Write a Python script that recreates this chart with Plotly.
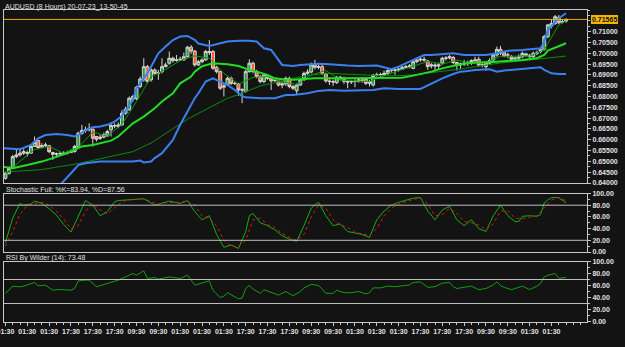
import plotly.graph_objects as go

W, H = 625, 347

# ---------------- data ----------------
opens = [0.6422,0.6445,0.6468,0.6522,0.6530,0.6538,0.6541,0.6538,0.6569,0.6596,
 0.6566,0.6573,0.6572,0.6541,0.6533,0.6535,0.6536,0.6538,0.6541,0.6545,
 0.6569,0.6630,0.6643,0.6646,0.6649,0.6615,0.6606,0.6612,0.6618,0.6646,
 0.6664,0.6661,0.6669,0.6723,0.6738,0.6800,0.6790,0.6846,0.6877,0.6938,
 0.6877,0.6923,0.6907,0.6915,0.6938,0.6954,0.6977,0.6967,0.6969,0.6969,
 0.6984,0.7028,0.7010,0.6946,0.6961,0.6969,0.7008,0.7008,0.6935,0.6915,
 0.6843,0.6853,0.6884,0.6861,0.6858,0.6830,0.6823,0.6915,0.6954,0.6915,
 0.6892,0.6869,0.6897,0.6884,0.6874,0.6872,0.6853,0.6858,0.6884,0.6846,
 0.6827,0.6853,0.6877,0.6907,0.6913,0.6946,0.6935,0.6938,0.6904,0.6872,
 0.6869,0.6864,0.6889,0.6884,0.6870,0.6867,0.6869,0.6870,0.6877,0.6880,
 0.6861,0.6853,0.6898,0.6900,0.6900,0.6907,0.6920,0.6923,0.6922,0.6926,
 0.6935,0.6938,0.6930,0.6961,0.6969,0.6972,0.6964,0.6941,0.6946,0.6941,
 0.6954,0.6977,0.6978,0.6981,0.6957,0.6946,0.6950,0.6954,0.6955,0.6966,
 0.6972,0.6946,0.6938,0.6954,0.6969,0.6992,0.7018,0.7003,0.6991,0.6984,
 0.6974,0.6977,0.6984,0.6997,0.6991,0.6984,0.7000,0.7008,0.7018,0.7077,
 0.7126,0.7138,0.7166,0.7145,0.7149]
closes = [0.6445,0.6468,0.6522,0.6530,0.6538,0.6545,0.6538,0.6569,0.6587,0.6564,
 0.6573,0.6576,0.6545,0.6533,0.6535,0.6536,0.6538,0.6541,0.6547,0.6569,
 0.6630,0.6643,0.6646,0.6653,0.6607,0.6602,0.6612,0.6623,0.6638,0.6666,
 0.6665,0.6669,0.6723,0.6741,0.6792,0.6787,0.6843,0.6881,0.6938,0.6869,
 0.6923,0.6907,0.6910,0.6938,0.6946,0.6977,0.6966,0.6969,0.6972,0.6984,
 0.7028,0.7010,0.6946,0.6961,0.6969,0.7008,0.7003,0.6931,0.6915,0.6838,
 0.6849,0.6884,0.6861,0.6860,0.6830,0.6831,0.6915,0.6954,0.6915,0.6892,
 0.6869,0.6900,0.6884,0.6872,0.6875,0.6853,0.6858,0.6884,0.6846,0.6838,
 0.6853,0.6877,0.6907,0.6913,0.6946,0.6935,0.6938,0.6907,0.6872,0.6869,
 0.6867,0.6889,0.6884,0.6870,0.6867,0.6869,0.6870,0.6877,0.6874,0.6861,
 0.6867,0.6898,0.6900,0.6901,0.6907,0.6920,0.6923,0.6922,0.6926,0.6935,
 0.6938,0.6941,0.6961,0.6969,0.6972,0.6969,0.6938,0.6946,0.6941,0.6946,
 0.6977,0.6978,0.6984,0.6957,0.6946,0.6950,0.6954,0.6955,0.6966,0.6969,
 0.6946,0.6945,0.6954,0.6966,0.6992,0.7018,0.7000,0.6987,0.6992,0.6972,
 0.6977,0.6984,0.7000,0.6992,0.6984,0.7000,0.7001,0.7018,0.7077,0.7131,
 0.7138,0.7169,0.7141,0.7146,0.71565]
highs = [0.6453,0.6476,0.6530,0.6553,0.6561,0.6556,0.6550,0.6576,0.6615,0.6599,
 0.6584,0.6587,0.6576,0.6545,0.6541,0.6544,0.6547,0.6550,0.6556,0.6576,
 0.6638,0.6669,0.6661,0.6676,0.6653,0.6618,0.6623,0.6633,0.6646,0.6676,
 0.6676,0.6680,0.6738,0.6753,0.6800,0.6807,0.6849,0.6892,0.6977,0.6946,
 0.6930,0.6930,0.6923,0.6977,0.6957,0.7008,0.6984,0.6992,0.6984,0.7003,
 0.7034,0.7038,0.7015,0.6969,0.6977,0.7015,0.7061,0.7015,0.6941,0.6920,
 0.6861,0.6892,0.6892,0.6869,0.6864,0.6838,0.6923,0.6972,0.6961,0.6923,
 0.6900,0.6907,0.6904,0.6892,0.6884,0.6877,0.6869,0.6892,0.6892,0.6853,
 0.6861,0.6884,0.6915,0.6926,0.6957,0.6969,0.6954,0.6946,0.6910,0.6880,
 0.6877,0.6895,0.6895,0.6892,0.6877,0.6877,0.6880,0.6884,0.6883,0.6884,
 0.6877,0.6904,0.6910,0.6910,0.6920,0.6926,0.6930,0.6930,0.6935,0.6941,
 0.6946,0.6950,0.6969,0.6977,0.6981,0.6984,0.6969,0.6954,0.6954,0.6957,
 0.6984,0.6987,0.6992,0.6987,0.6961,0.6957,0.6969,0.6966,0.6972,0.6984,
 0.6984,0.6957,0.6961,0.6977,0.7000,0.7031,0.7034,0.7008,0.7003,0.6992,
 0.6984,0.6995,0.7008,0.7003,0.6997,0.7008,0.7012,0.7028,0.7085,0.7135,
 0.7154,0.7177,0.7177,0.7157,0.7162]
lows = [0.6415,0.6438,0.6464,0.6515,0.6522,0.6530,0.6522,0.6535,0.6566,0.6556,
 0.6561,0.6566,0.6538,0.6507,0.6522,0.6525,0.6529,0.6532,0.6538,0.6541,
 0.6566,0.6623,0.6633,0.6638,0.6569,0.6592,0.6599,0.6607,0.6612,0.6615,
 0.6653,0.6653,0.6664,0.6715,0.6735,0.6777,0.6784,0.6838,0.6869,0.6861,
 0.6869,0.6900,0.6877,0.6907,0.6935,0.6946,0.6957,0.6961,0.6964,0.6966,
 0.6980,0.6997,0.6938,0.6941,0.6954,0.6966,0.6992,0.6923,0.6907,0.6830,
 0.6800,0.6849,0.6853,0.6853,0.6803,0.6769,0.6818,0.6910,0.6907,0.6884,
 0.6861,0.6861,0.6877,0.6830,0.6864,0.6846,0.6838,0.6849,0.6838,0.6830,
 0.6807,0.6849,0.6872,0.6900,0.6907,0.6926,0.6926,0.6900,0.6864,0.6853,
 0.6849,0.6858,0.6874,0.6858,0.6838,0.6858,0.6843,0.6864,0.6864,0.6853,
 0.6846,0.6846,0.6892,0.6889,0.6895,0.6900,0.6910,0.6900,0.6915,0.6923,
 0.6929,0.6930,0.6926,0.6954,0.6961,0.6961,0.6923,0.6930,0.6915,0.6926,
 0.6946,0.6966,0.6972,0.6950,0.6920,0.6926,0.6941,0.6941,0.6946,0.6957,
 0.6938,0.6935,0.6920,0.6946,0.6961,0.6984,0.6992,0.6981,0.6977,0.6966,
 0.6966,0.6969,0.6977,0.6984,0.6977,0.6977,0.6991,0.7000,0.7012,0.7069,
 0.7115,0.7131,0.7135,0.7138,0.7141]

# Bollinger upper / lower / middle and moving averages (bar index, value)
bb_up_i = [-1,4,7,9,11,14,17,19,20,22,24,26,28,30,32,35,36,39,41,42,44,46,48,50,52,53,56,59,61,64,67,69,71,73,74,76,79,81,84,86,89,91,94,97,100,102,104,106,108,111,113,115,117,120,123,126,128,132,135,137,138,142,145,147,148,149,152,154]
bb_up_v = [0.6561,0.6556,0.6576,0.6607,0.6622,0.6627,0.6622,0.6615,0.6622,0.6645,0.6658,0.6661,0.6669,0.6684,0.6710,0.6784,0.6838,0.6907,0.6969,0.7000,0.7031,0.7061,0.7077,0.7080,0.7062,0.7045,0.7034,0.7046,0.7054,0.7058,0.7058,0.7054,0.7023,0.7015,0.6992,0.6946,0.6941,0.6946,0.6949,0.6951,0.6949,0.6946,0.6943,0.6941,0.6941,0.6943,0.6935,0.6926,0.6938,0.6961,0.6977,0.6992,0.6992,0.6997,0.7000,0.6992,0.6992,0.6992,0.7000,0.7008,0.7012,0.7015,0.7018,0.7023,0.7054,0.7108,0.7162,0.7185]
bb_lo_i = [-1,5,10,13,15,18,20,22,26,30,35,37,38,40,41,43,46,48,50,52,53,55,57,58,61,63,65,66,70,74,76,77,79,83,86,89,93,98,101,104,108,114,115,117,120,123,125,127,129,133,135,137,142,147,148,150,152,154]
bb_lo_v = [0.6350,0.6355,0.6365,0.6380,0.6391,0.6445,0.6483,0.6491,0.6499,0.6499,0.6499,0.6504,0.6495,0.6499,0.6515,0.6538,0.6599,0.6669,0.6730,0.6792,0.6815,0.6869,0.6884,0.6877,0.6853,0.6830,0.6802,0.6796,0.6792,0.6792,0.6802,0.6807,0.6807,0.6815,0.6826,0.6830,0.6827,0.6827,0.6830,0.6838,0.6835,0.6835,0.6843,0.6858,0.6884,0.6904,0.6915,0.6918,0.6923,0.6926,0.6915,0.6920,0.6926,0.6935,0.6923,0.6907,0.6904,0.6904]
bb_mid_i = [-1,2,6,10,13,17,20,21,24,26,29,31,33,35,38,41,43,46,48,51,52,54,57,61,64,67,69,72,74,77,79,82,85,93,102,106,109,113,117,120,124,127,130,133,136,138,142,146,148,149,152,154]
bb_mid_v = [0.6476,0.6468,0.6483,0.6499,0.6515,0.6538,0.6561,0.6569,0.6576,0.6584,0.6596,0.6615,0.6646,0.6676,0.6707,0.6746,0.6777,0.6815,0.6861,0.6892,0.6915,0.6940,0.6954,0.6949,0.6941,0.6923,0.6915,0.6900,0.6884,0.6877,0.6877,0.6880,0.6884,0.6884,0.6884,0.6884,0.6887,0.6900,0.6915,0.6930,0.6946,0.6954,0.6958,0.6958,0.6961,0.6964,0.6969,0.6977,0.6992,0.7012,0.7031,0.7046]
ma_slow_i = [-1,10,20,30,35,40,45,50,53,58,61,65,70,75,79,84,89,98,107,112,118,124,130,136,142,148,154]
ma_slow_v = [0.6450,0.6462,0.6490,0.6525,0.6545,0.6585,0.6640,0.6695,0.6722,0.6765,0.6792,0.6815,0.6849,0.6868,0.6884,0.6900,0.6907,0.6900,0.6895,0.6900,0.6912,0.6925,0.6940,0.6955,0.6965,0.6975,0.6987]
ma_fast_i = [0,2,4,8,12,16,20,24,28,32,36,40,44,48,52,56,60,64,68,72,76,80,84,88,92,96,100,104,108,112,116,120,124,128,132,136,140,144,148,150,152,154]
ma_fast_v = [0.6440,0.6470,0.6501,0.6555,0.6569,0.6537,0.6565,0.6636,0.6616,0.6672,0.6777,0.6891,0.6925,0.6966,0.6988,0.6977,0.6907,0.6857,0.6889,0.6892,0.6868,0.6856,0.6899,0.6920,0.6876,0.6872,0.6870,0.6895,0.6920,0.6940,0.6962,0.6950,0.6968,0.6954,0.6956,0.6986,0.6986,0.6987,0.7016,0.7073,0.7131,0.7150]

# Stochastic full %K / %D
stk_i = [0,2,4,5,7,8,10,12,14,16,18,20,22,24,26,28,30,31,33,35,37,38,41,43,45,48,50,52,54,56,58,60,62,64,66,67,68,70,72,74,76,78,80,82,84,86,88,90,92,94,96,98,100,102,104,106,108,110,112,114,116,118,120,122,124,126,128,130,132,134,136,138,140,141,142,144,146,147,148,149,150,152,154]
stk_v = [16,58,83,80,82,87,83,74,63,47,34,61,88,80,62,69,86,88,89,90,91,91,80,83,87,83,88,69,55,62,30,8,12,6,35,62,66,50,45,38,28,22,18,45,75,85,62,45,48,35,32,30,25,55,70,80,85,88,92,93,70,55,72,78,55,45,55,40,35,62,80,62,52,52,61,62,61,64,84,89,93,93,83.94]
std_i = [0,2,4,6,8,10,12,14,16,18,20,22,24,26,28,30,32,34,36,38,40,42,44,46,48,50,52,54,56,58,60,62,64,66,68,70,72,74,76,78,80,82,84,86,88,90,92,94,96,98,100,102,104,106,108,110,112,114,116,118,120,122,124,126,128,130,132,134,136,138,140,142,144,146,148,150,152,154]
std_v = [10,35,65,80,83,85,80,70,56,40,45,70,82,72,65,76,86,89,90,91,86,82,84,85,85,86,80,62,58,45,20,10,9,20,55,58,47,42,32,25,20,30,60,80,75,55,46,42,34,31,28,40,62,75,82,86,90,92,82,62,64,74,66,52,50,46,38,48,70,70,58,57,60,62,75,89,93,87.56]

# RSI by Wilder (14)
rsi_i = [0,2,4,5,8,9,11,13,15,18,19,20,22,23,25,28,30,31,34,35,36,38,39,41,42,45,48,50,52,54,56,57,59,60,61,64,65,66,67,68,70,71,73,75,77,79,81,82,84,86,87,88,90,91,93,95,97,99,100,101,103,105,107,109,111,112,114,116,118,120,122,123,124,126,128,130,132,134,135,136,137,139,141,142,144,146,147,148,149,150,151,152,154]
rsi_v = [46.7,58.9,57.8,58.9,65,59.4,60.6,52.2,53.3,52.2,55,67.8,68.9,68.9,57.8,63.3,66.1,68.9,77.2,80,77.2,84.4,71.7,73.3,70.6,74.4,71.7,77.2,60.6,64.4,67.8,52,40,42,48,38,39,55,60,54,47,53,48,44,50,43,50,56,62,60,54,47,47,52,48,48,50,46,48,56,56,59,58,60,61,65,66,57,58,64,65,58,55,57,59,53,55,61,66,60,57,53,56.7,58.9,53.3,58.9,63.3,74.4,77.2,78,80,72,73.48]

# x-axis tick labels, one every 6 bars
x_tick_pos = [0,6,12,18,24,30,36,42,48,54,60,66,72,78,84,90,96,102,108,114,120,126,132,138,144,150]
x_tick_txt = ["01:30","01:30","01:30","17:30","17:30","17:30","09:30","09:30",
              "01:30","01:30","01:30","17:30","17:30","17:30","09:30","09:30",
              "01:30","01:30","01:30","17:30","17:30","17:30","09:30","09:30",
              "01:30","01:30"]
price_ticks = [0.640,0.645,0.650,0.655,0.660,0.665,0.670,0.675,0.680,0.685,0.690,0.695,0.700,0.705,0.710]
osc_ticks = [0,20,40,60,80,100]

title_main = "AUDUSD (8 Hours) 20-07-23_13-50-45"
title_stoch = "Stochastic Full: %K=83.94, %D=87.56"
title_rsi = "RSI By Wilder (14): 73.48"

# ---------------- styling ----------------
BG = "#131313"
FRAME = "#c8c8c8"
TXT = "#e0e0e0"
FONT = "Liberation Sans"
FS = 7

def py(px):
    return 1 - px / H

xdom = [4 / W, 587 / W]
dom_main = [py(183), py(10)]
dom_stoch = [py(252), py(193.5)]
dom_rsi = [py(321.5), py(261.5)]

idx = list(range(len(closes)))

fig = go.Figure()
fig.add_trace(go.Candlestick(
    x=idx, open=opens, high=highs, low=lows, close=closes,
    increasing=dict(line=dict(color="#d4d4d4", width=1), fillcolor="#22a043"),
    decreasing=dict(line=dict(color="#d4d4d4", width=1), fillcolor="#ff5a22"),
    whiskerwidth=0, xaxis="x", yaxis="y", showlegend=False, hoverinfo="skip"))

def line(xs, ys, color, width, ax="x", ay="y", dash="solid"):
    fig.add_trace(go.Scatter(x=xs, y=ys, mode="lines", xaxis=ax, yaxis=ay,
                             line=dict(color=color, width=width, dash=dash),
                             showlegend=False, hoverinfo="skip"))

line(ma_slow_i, ma_slow_v, "#0c8a0c", 1)
line(ma_fast_i, ma_fast_v, "#0a9a0a", 1)
line(bb_mid_i, bb_mid_v, "#22dd22", 2)
line(bb_up_i, bb_up_v, "#3a80f0", 2)
line(bb_lo_i, bb_lo_v, "#3a80f0", 2)

line(stk_i, stk_v, "#12b012", 1, "x2", "y2")
line(std_i, std_v, "#e01818", 1, "x2", "y2", dash="dot")
line(rsi_i, rsi_v, "#12a012", 1, "x3", "y3")

tickfont = dict(family=FONT, size=FS, color=TXT, weight="bold")
xr = [-0.4, 159.75]
xcommon = dict(domain=xdom, range=xr, showgrid=False, zeroline=False, automargin=False,
               showline=True, mirror=True, linecolor=FRAME, linewidth=1)
ycommon = dict(side="right", showgrid=False, zeroline=False, showline=True, automargin=False,
               mirror=True, linecolor=FRAME, linewidth=1, ticks="outside",
               ticklen=3, tickcolor=FRAME, tickfont=tickfont)

fig.update_layout(
    width=W, height=H, autosize=False,
    margin=dict(l=0, r=0, t=0, b=0, pad=0, autoexpand=False),
    paper_bgcolor=BG, plot_bgcolor=BG,
    showlegend=False,
    boxgap=0.2, boxgroupgap=0,
    xaxis=dict(**xcommon, anchor="y", showticklabels=False, ticks="",
               rangeslider=dict(visible=False)),
    yaxis=dict(**ycommon, domain=dom_main, anchor="x", range=[0.64, 0.72],
               tickmode="array", tickvals=price_ticks, tickformat=".5f",
               minor=dict(ticks="outside", ticklen=2, tickcolor=FRAME, dtick=0.0025, tick0=0.64)),
    xaxis2=dict(**xcommon, anchor="y2", matches="x", showticklabels=False, ticks=""),
    yaxis2=dict(**ycommon, domain=dom_stoch, anchor="x2", range=[0, 100],
                tickmode="array", tickvals=osc_ticks, tickformat=".2f",
                minor=dict(ticks="outside", ticklen=2, tickcolor=FRAME, dtick=10, tick0=0)),
    xaxis3=dict(**xcommon, anchor="y3", matches="x", tickmode="array",
                tickvals=x_tick_pos, ticktext=x_tick_txt, ticks="outside", ticklen=3,
                tickcolor=FRAME, tickfont=tickfont,
                ticklabeloverflow="allow",
                minor=dict(ticks="outside", ticklen=2, tickcolor=FRAME, dtick=2, tick0=0)),
    yaxis3=dict(**ycommon, domain=dom_rsi, anchor="x3", range=[0, 100],
                tickmode="array", tickvals=osc_ticks, tickformat=".2f",
                minor=dict(ticks="outside", ticklen=2, tickcolor=FRAME, dtick=10, tick0=0)),
)

shapes = [
    dict(type="line", xref="x domain", yref="y", x0=0, x1=1, y0=closes[-1], y1=closes[-1],
         line=dict(color="#f0a800", width=1)),
    dict(type="line", xref="x2 domain", yref="y2", x0=0, x1=1, y0=80, y1=80, line=dict(color="#bdbdbd", width=1)),
    dict(type="line", xref="x2 domain", yref="y2", x0=0, x1=1, y0=20, y1=20, line=dict(color="#bdbdbd", width=1)),
    dict(type="line", xref="x3 domain", yref="y3", x0=0, x1=1, y0=70, y1=70, line=dict(color="#bdbdbd", width=1)),
    dict(type="line", xref="x3 domain", yref="y3", x0=0, x1=1, y0=30, y1=30, line=dict(color="#bdbdbd", width=1)),
]
fig.update_layout(shapes=shapes)

ann_font = dict(family=FONT, size=7, color=TXT)
fig.add_annotation(x=3 / W, y=py(7), xref="paper", yref="paper", text=title_main,
                   showarrow=False, xanchor="left", yanchor="middle", font=ann_font)
fig.add_annotation(x=4 / W, y=py(189), xref="paper", yref="paper", text=title_stoch,
                   showarrow=False, xanchor="left", yanchor="middle", font=ann_font)
fig.add_annotation(x=4 / W, y=py(257.5), xref="paper", yref="paper", text=title_rsi,
                   showarrow=False, xanchor="left", yanchor="middle", font=ann_font)
fig.add_annotation(x=591 / W, y=closes[-1], xref="paper", yref="y", text=f"{closes[-1]:.5f}",
                   showarrow=False, xanchor="left", yanchor="middle",
                   font=dict(family=FONT, size=FS, color="#101010", weight="bold"),
                   bgcolor="#f2b600", bordercolor="#f2b600", borderpad=0)

fig.write_html("out.html")
